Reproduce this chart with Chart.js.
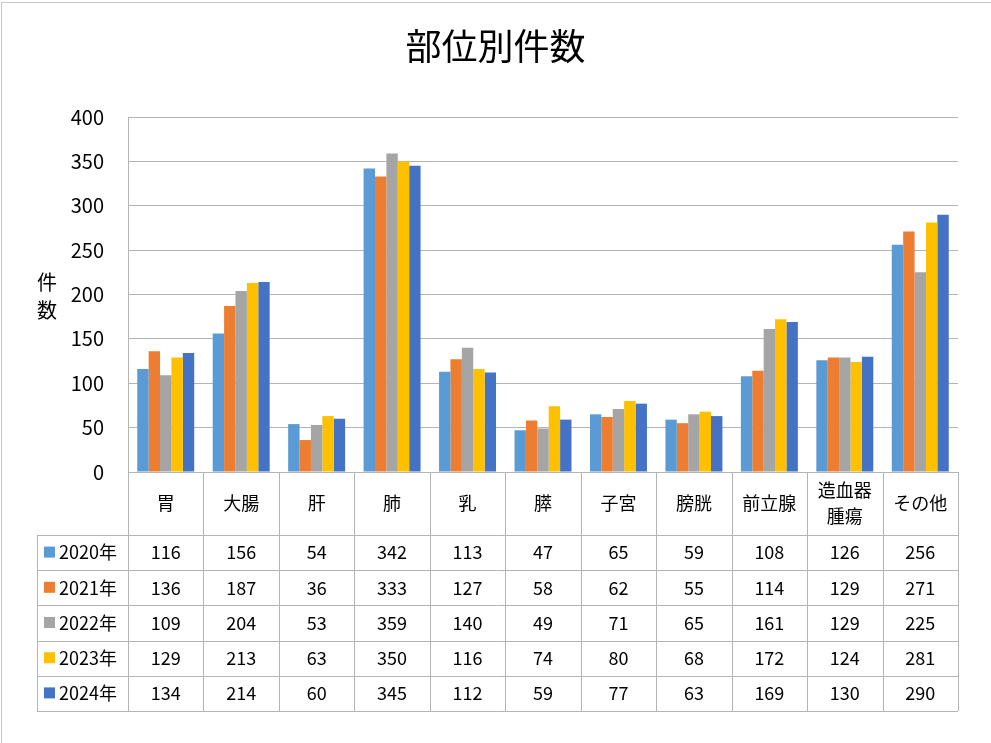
<!DOCTYPE html>
<html>
<head>
<meta charset="utf-8">
<script src="https://cdn.jsdelivr.net/npm/chart.js@4.4.1/dist/chart.umd.min.js"></script>
<style>
  body { margin: 0; background: #fff; }
  #wrap { position: relative; width: 991px; height: 743px; overflow: hidden; }
  #frame { position: absolute; left: 1px; top: 2px; width: 1200px; height: 1000px; border: 1px solid #c8c8c8; pointer-events: none; }
</style>
</head>
<body>
<div id="wrap">
  <canvas id="chart" width="991" height="743"></canvas>
  <div id="frame"></div>
</div>
<script>
// data
const categories = ['胃', '大腸', '肝', '肺', '乳', '膵', '子宮', '膀胱', '前立腺', ['造血器', '腫瘍'], 'その他'];
const seriesNames = ['2020年', '2021年', '2022年', '2023年', '2024年'];
const y2020 = [116, 156, 54, 342, 113, 47, 65, 59, 108, 126, 256];
const y2021 = [136, 187, 36, 333, 127, 58, 62, 55, 114, 129, 271];
const y2022 = [109, 204, 53, 359, 140, 49, 71, 65, 161, 129, 225];
const y2023 = [129, 213, 63, 350, 116, 74, 80, 68, 172, 124, 281];
const y2024 = [134, 214, 60, 345, 112, 59, 77, 63, 169, 130, 290];
const yTicks = [0, 50, 100, 150, 200, 250, 300, 350, 400];
const colors = ['#5B9BD5', '#ED7D31', '#A5A5A5', '#FFC000', '#4472C4'];
const chartTitle = '部位別件数';
const axisTitle = ['件', '数'];

const FONT = '"Noto Sans CJK JP", "Noto Sans", sans-serif';
const lineColor = '#b4b4b4';

// title, upright axis title and the data table under the plot (positioned from the x scale)
const dataTable = {
    id: 'dataTable',
    afterDraw: function (chart) {
        var ctx = chart.ctx;
        var area = chart.chartArea;
        var x = chart.scales.x;
        var n = categories.length;
        var colW = area.width / n;
        var headerH = 63, rowH = 35.2, legendLeft = 37;
        var top = area.bottom;
        var rowsTop = top + headerH;
        var bottom = rowsTop + rowH * seriesNames.length;

        ctx.save();
        ctx.strokeStyle = lineColor;
        ctx.lineWidth = 1;
        ctx.beginPath();
        // axis line / table top
        ctx.moveTo(area.left, top + 0.5); ctx.lineTo(area.right, top + 0.5);
        // left plot border
        ctx.moveTo(area.left + 0.5, area.top); ctx.lineTo(area.left + 0.5, bottom);
        // column separators
        for (var i = 0; i < n; i++) {
            var cx = Math.round(x.getPixelForValue(i) + colW / 2) + 0.5;
            ctx.moveTo(cx, top); ctx.lineTo(cx, bottom);
        }
        // row lines
        for (var r = 0; r <= seriesNames.length; r++) {
            var ry = Math.round(rowsTop + r * rowH) + 0.5;
            ctx.moveTo(legendLeft, ry); ctx.lineTo(area.right, ry);
        }
        ctx.moveTo(legendLeft + 0.5, rowsTop); ctx.lineTo(legendLeft + 0.5, bottom);
        ctx.stroke();

        ctx.fillStyle = '#000';
        ctx.textAlign = 'center';
        ctx.textBaseline = 'middle';

        ctx.font = '36px ' + FONT;
        ctx.fillText(chartTitle, chart.width / 2, 46);

        ctx.font = '18px ' + FONT;
        categories.forEach(function (c, i) {
            var cx = x.getPixelForValue(i);
            if (Array.isArray(c)) {
                ctx.fillText(c[0], cx, top + 18);
                ctx.fillText(c[1], cx, top + 44);
            } else {
                ctx.fillText(c, cx, top + 31);
            }
        });

        chart.data.datasets.forEach(function (ds, r) {
            var cy = rowsTop + r * rowH + rowH / 2;
            ds.data.forEach(function (v, i) {
                ctx.fillText(String(v), x.getPixelForValue(i), cy);
            });
            ctx.fillStyle = ds.backgroundColor;
            ctx.fillRect(44, cy - 6, 11, 11);
            ctx.fillStyle = '#000';
            ctx.textAlign = 'left';
            ctx.fillText(ds.label, 59, cy);
            ctx.textAlign = 'center';
        });

        ctx.font = '20px ' + FONT;
        ctx.fillText(axisTitle[0], 47, 282);
        ctx.fillText(axisTitle[1], 47, 310);
        ctx.restore();
    }
};

new Chart(document.getElementById('chart'), {
    type: 'bar',
    data: {
        labels: categories,
        datasets: [y2020, y2021, y2022, y2023, y2024].map(function (d, i) {
            return { label: seriesNames[i], data: d, backgroundColor: colors[i], borderWidth: 0,
                     categoryPercentage: 0.755, barPercentage: 1.0 };
        })
    },
    options: {
        responsive: false, animation: false,
        layout: { padding: { left: 0, right: 33, top: 117, bottom: 271 } },
        plugins: {
            legend: { display: false },
            tooltip: { enabled: false },
            title: { display: false }
        },
        scales: {
            x: { display: false },
            y: {
                min: 0, max: 400,
                afterFit: function (s) { s.width = 128; },
                afterBuildTicks: function (s) { s.ticks = yTicks.map(function (v) { return { value: v }; }); },
                border: { display: false },
                grid: { color: lineColor, drawTicks: false },
                ticks: { color: '#000', padding: 24, font: { family: FONT, size: 20 } }
            }
        }
    },
    plugins: [dataTable]
});
</script>
</body>
</html>
